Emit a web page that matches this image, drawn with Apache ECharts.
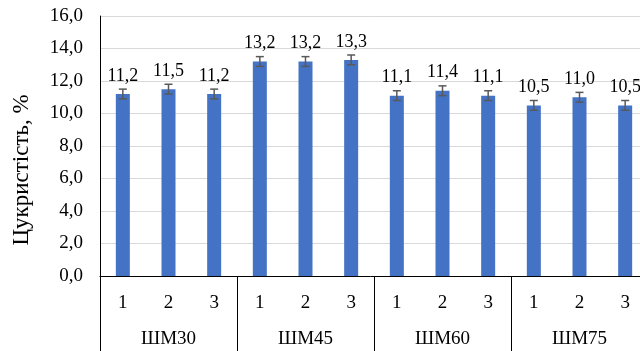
<!DOCTYPE html>
<html>
<head>
<meta charset="utf-8">
<script src="https://cdn.jsdelivr.net/npm/echarts@6/dist/echarts.min.js"></script>
<style>
html,body{margin:0;padding:0;background:#fff;}
#chart{width:640px;height:351px;}
</style>
</head>
<body>
<div id="chart"></div>
<script>
const subCategories = ['1','2','3','1','2','3','1','2','3','1','2','3'];
const groups = ['ШМ30','ШМ45','ШМ60','ШМ75'];
const values = [11.2, 11.5, 11.2, 13.2, 13.2, 13.3, 11.1, 11.4, 11.1, 10.5, 11.0, 10.5];
const errors = [0.3, 0.3, 0.3, 0.3, 0.3, 0.3, 0.3, 0.3, 0.3, 0.3, 0.3, 0.3];
const yTicks = {min: 0, max: 16, interval: 2};
const yTitle = 'Цукристість, %';

const FONT = '"Liberation Serif", "Times New Roman", serif';
const fmt = v => v.toFixed(1).replace('.', ',');

const chart = echarts.init(document.getElementById('chart'), null, {renderer: 'canvas'});
const errData = values.map((v, i) => [i, v - errors[i], v + errors[i]]);

chart.setOption({
  animation: false,
  backgroundColor: '#fff',
  grid: {left: 100, top: 16, width: 548, height: 260, containLabel: false, outerBoundsMode: 'none'},
  xAxis: [
    {
      type: 'category', data: subCategories, gridIndex: 0, position: 'bottom',
      axisLine: {show: true, lineStyle: {color: '#000', width: 1}},
      axisTick: {show: false},
      axisLabel: {fontFamily: FONT, fontSize: 19, color: '#000', margin: 18, interval: 0}
    },
    {
      type: 'category', data: groups, gridIndex: 0, position: 'bottom',
      axisLine: {show: false},
      axisTick: {show: true, length: 76, interval: 0, lineStyle: {color: '#000', width: 1}},
      axisLabel: {fontFamily: FONT, fontSize: 19, color: '#000', margin: 54, interval: 0}
    }
  ],
  yAxis: {
    type: 'value', min: yTicks.min, max: yTicks.max, interval: yTicks.interval,
    axisLine: {show: true, lineStyle: {color: '#000', width: 1}},
    axisTick: {show: false},
    splitLine: {show: true, lineStyle: {color: '#d9d9d9', width: 1}},
    axisLabel: {fontFamily: FONT, fontSize: 19, color: '#000', margin: 17, formatter: fmt}
  },
  graphic: [{
    type: 'text', x: 22, y: 170, rotation: Math.PI / 2,
    style: {text: yTitle, fontFamily: FONT, fontSize: 23, fill: '#000', align: 'center', verticalAlign: 'middle'}
  }],
  series: [
    {
      type: 'bar', data: values, xAxisIndex: 0, barWidth: 14,
      itemStyle: {color: '#4472C4'},
      label: {show: true, position: 'top', distance: 9, fontFamily: FONT, fontSize: 18, color: '#000',
        formatter: p => fmt(p.value)}
    },
    {
      type: 'custom', xAxisIndex: 0, data: errData, z: 5,
      renderItem: function (params, api) {
        const x = api.value(0);
        const lo = api.coord([x, api.value(1)]);
        const hi = api.coord([x, api.value(2)]);
        const hw = 4;
        const st = {stroke: '#595959', lineWidth: 1.5};
        return {type: 'group', children: [
          {type: 'line', shape: {x1: lo[0], y1: lo[1], x2: hi[0], y2: hi[1]}, style: st},
          {type: 'line', shape: {x1: hi[0] - hw, y1: hi[1], x2: hi[0] + hw, y2: hi[1]}, style: st},
          {type: 'line', shape: {x1: lo[0] - hw, y1: lo[1], x2: lo[0] + hw, y2: lo[1]}, style: st}
        ]};
      }
    }
  ]
});
</script>
</body>
</html>
